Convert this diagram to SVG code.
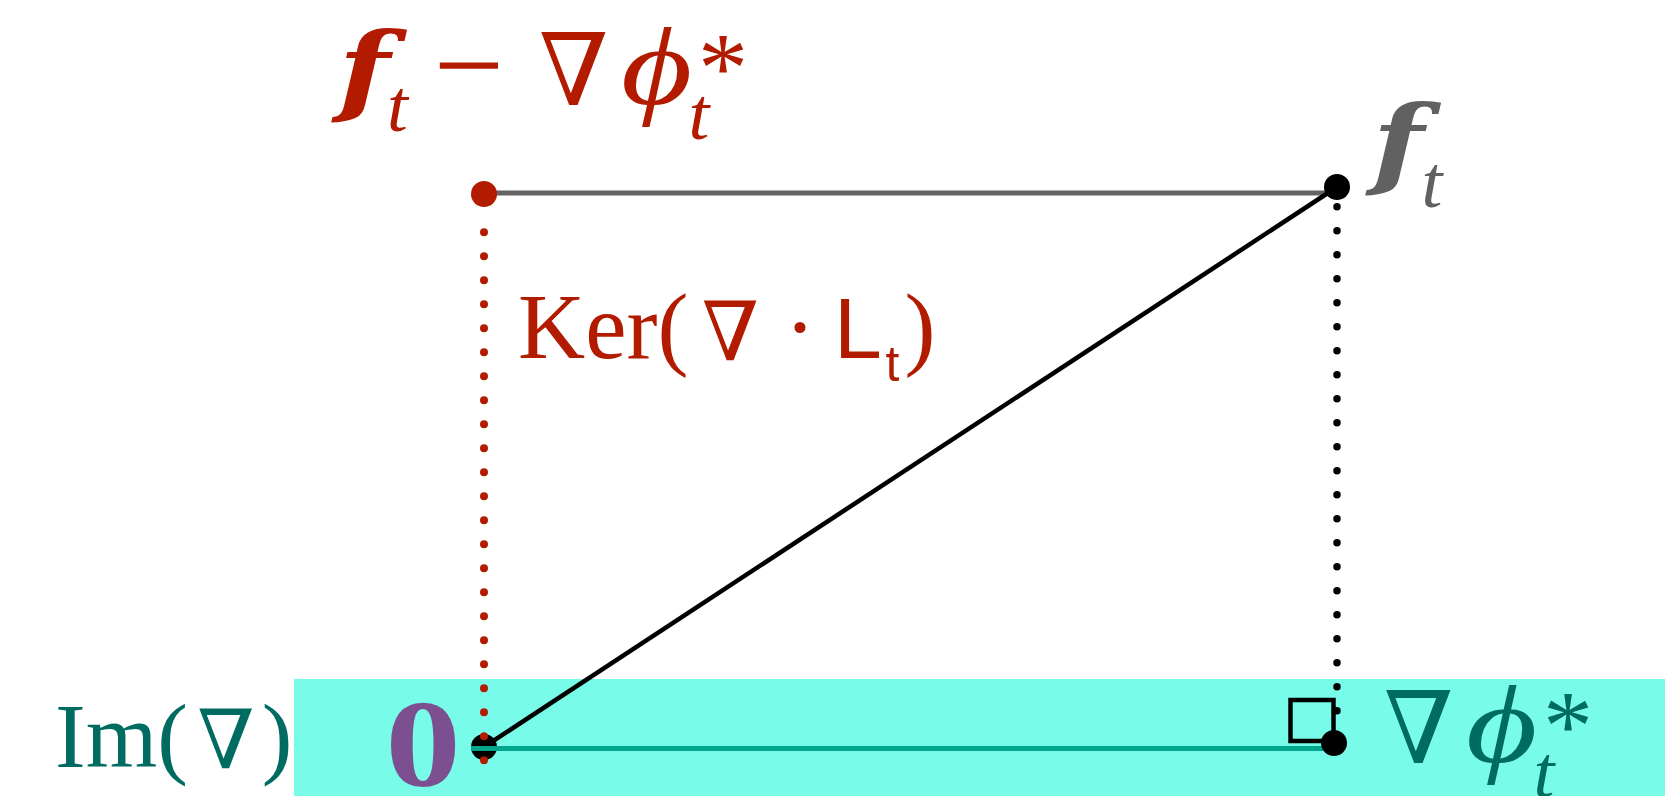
<svg xmlns="http://www.w3.org/2000/svg" width="1665" height="796" viewBox="0 0 1665 796">
<style>
.serif{font-family:"Liberation Serif","DejaVu Serif",serif}
.nab{font-family:"Liberation Serif","DejaVu Serif",serif}
.fx{font-family:"DejaVu Serif",serif;font-style:italic;font-weight:bold}
.phi{font-family:"Liberation Serif","DejaVu Serif",serif;font-style:italic}
.sans{font-family:"Liberation Sans",Arial,sans-serif}
.red{fill:#B31B00}
.teal{fill:#006B61}
.gray{fill:#616161}
.it{font-style:italic}
</style>
<rect id="im-band" x="294" y="679" width="1371" height="117" fill="#78FCE9"/>
<g id="connectors" fill="none">
  <line x1="484" y1="193" x2="1337" y2="193" stroke="#636363" stroke-width="5"/>
  <line x1="484" y1="747" x2="1337" y2="187" stroke="#000" stroke-width="4.5"/>
  <line x1="1337" y1="206.7" x2="1337" y2="712" stroke="#000" stroke-width="7.5" stroke-linecap="round" stroke-dasharray="0 24"/>
  <rect x="1290.5" y="700" width="43" height="41" stroke="#000" stroke-width="4.5"/>
</g>
<g id="node-origin">
  <circle cx="484" cy="747" r="13" fill="#000"/>
</g>
<g id="connectors-2" fill="none">
  <line x1="471" y1="748.5" x2="1334" y2="748.5" stroke="#00A68C" stroke-width="5"/>
  <line x1="484" y1="232.3" x2="484" y2="762" stroke="#B31B00" stroke-width="8" stroke-linecap="round" stroke-dasharray="0 24"/>
</g>
<g id="node-diff">
  <circle cx="484" cy="194" r="13" fill="#B31B00"/>
</g>
<g id="node-ft">
  <circle cx="1337" cy="187" r="13" fill="#000"/>
</g>
<g id="node-grad">
  <circle cx="1334" cy="743" r="13" fill="#000"/>
</g>
<g id="label-diff" class="red">
  <text class="fx" transform="translate(364,104) scale(1.2,1)" font-size="100" text-anchor="middle">f</text>
  <text class="serif it" x="397.5" y="131" font-size="75" text-anchor="middle">t</text>
  <text class="serif" x="469" y="107" font-size="125" text-anchor="middle">−</text>
  <text class="nab" x="573.7" y="105" font-size="100" text-anchor="middle">∇</text>
  <text class="phi" transform="translate(656.5,104) scale(1.25,1)" font-size="110" text-anchor="middle">ϕ</text>
  <text class="serif it" x="699" y="139" font-size="75" text-anchor="middle">t</text>
  <text class="serif" x="723" y="101" font-size="100" text-anchor="middle">*</text>
</g>
<g id="label-ft" class="gray">
  <text class="fx" transform="translate(1398,177) scale(1.2,1)" font-size="100" text-anchor="middle">f</text>
  <text class="serif it" x="1432" y="207" font-size="75" text-anchor="middle">t</text>
</g>
<g id="label-ker" class="red">
  <text class="serif" x="518" y="358" font-size="93">Ker(</text>
  <text class="nab" x="730.5" y="360" font-size="82" text-anchor="middle">∇</text>
  <text class="serif" x="800" y="358" font-size="93" text-anchor="middle">·</text>
  <text class="sans" x="834" y="358" font-size="86">L</text>
  <text class="sans" x="892.5" y="381" font-size="50" text-anchor="middle">t</text>
  <text class="serif" x="920" y="358" font-size="93" text-anchor="middle">)</text>
</g>
<g id="label-im" class="teal">
  <text class="serif" x="55" y="767" font-size="92">Im(</text>
  <text class="nab" x="226" y="768" font-size="82" text-anchor="middle">∇</text>
  <text class="serif" x="277" y="767" font-size="92" text-anchor="middle">)</text>
</g>
<g id="label-zero">
  <text class="serif" transform="translate(423,786) scale(1.2,1)" font-size="126" font-weight="bold" fill="#7C5090" text-anchor="middle">0</text>
</g>
<g id="label-grad" class="teal">
  <text class="nab" x="1418.7" y="763" font-size="100" text-anchor="middle">∇</text>
  <text class="phi" transform="translate(1501.5,762) scale(1.25,1)" font-size="110" text-anchor="middle">ϕ</text>
  <text class="serif it" x="1544" y="797" font-size="75" text-anchor="middle">t</text>
  <text class="serif" x="1568" y="759" font-size="100" text-anchor="middle">*</text>
</g>
</svg>
